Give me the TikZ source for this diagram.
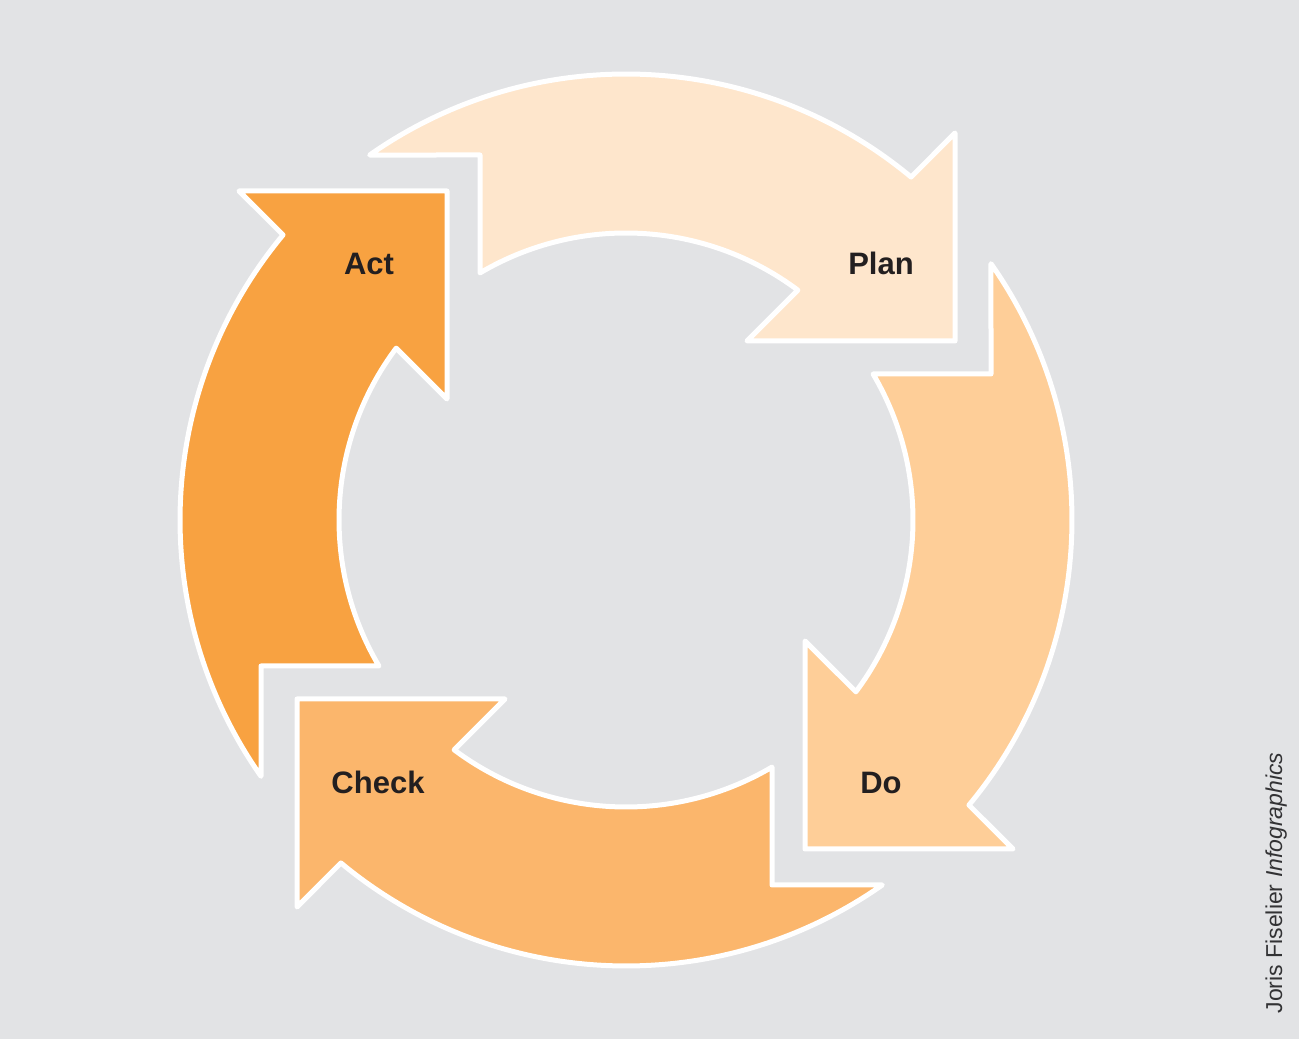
\documentclass[tikz,border=0pt]{standalone}
\usepackage{fontspec}
\setmainfont{Liberation Sans}
\definecolor{bg}{RGB}{226,227,229}
\definecolor{planc}{RGB}{254,230,204}
\definecolor{doc}{RGB}{254,206,152}
\definecolor{checkc}{RGB}{251,182,108}
\definecolor{actc}{RGB}{248,162,65}
\definecolor{txt}{RGB}{35,31,32}
\definecolor{credit}{RGB}{50,50,52}
\begin{document}
\begin{tikzpicture}[x=1pt,y=1pt,
  arrowshape/.style={draw=white, line width=5pt, line join=round},
  lbl/.style={font=\fontsize{31}{36}\selectfont\bfseries, text=txt, anchor=base, inner sep=0pt}]
\fill[bg] (0,0) rectangle (1299,1039);
\useasboundingbox (0,0) rectangle (1299,1039);
\def\arrowpath{(50.27:446) arc[start angle=50.27, end angle=125.08, radius=446] -- (-146,365) -- (120.58:287) arc[start angle=120.58, end angle=53.22, radius=287] -- (121,179) -- (329,179) -- (329,387) -- cycle}
\begin{scope}[shift={(626,519)}]
  \draw[arrowshape, fill=planc] \arrowpath;
\end{scope}
\begin{scope}[shift={(626,519)}, rotate=-90]
  \draw[arrowshape, fill=doc] \arrowpath;
\end{scope}
\begin{scope}[shift={(626,519)}, rotate=180]
  \draw[arrowshape, fill=checkc] \arrowpath;
\end{scope}
\begin{scope}[shift={(626,519)}, rotate=90]
  \draw[arrowshape, fill=actc] \arrowpath;
\end{scope}
\node[lbl] (plan) at (881,764) {Plan};
\node[lbl] (do) at (881,245) {Do};
\node[lbl] (check) at (378,245) {Check};
\node[lbl] (act) at (369,764) {Act};
\node[rotate=90, anchor=base, inner sep=0pt, font=\fontsize{23}{26}\selectfont, text=credit] (credit) at (1282,156) {Joris Fiselier \textit{Infographics}};
\end{tikzpicture}
\end{document}
